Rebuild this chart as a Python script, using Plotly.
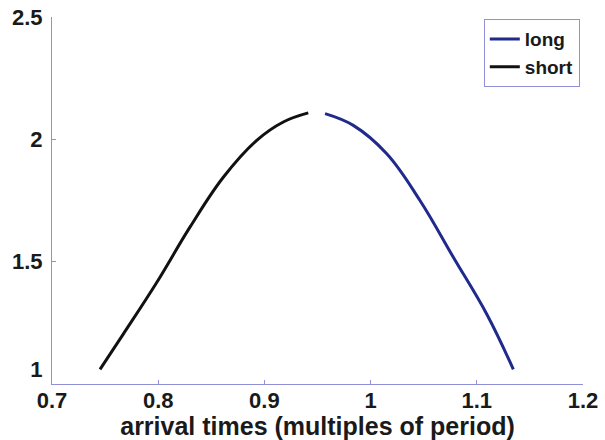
import plotly.graph_objects as go

# Data
x_short = [0.7452, 0.7671, 0.7986, 0.8299, 0.8613, 0.8928, 0.9178, 0.9413]
y_short = [1.060, 1.204, 1.415, 1.641, 1.845, 1.996, 2.071, 2.108]
x_long = [0.9571, 0.9837, 1.0152, 1.0465, 1.0779, 1.1093, 1.1344]
y_long = [2.105, 2.057, 1.941, 1.750, 1.518, 1.286, 1.060]

x_ticks = [0.7, 0.8, 0.9, 1.0, 1.1, 1.2]
x_tick_text = ["0.7", "0.8", "0.9", "1", "1.1", "1.2"]
y_ticks = [1.0, 1.5, 2.0, 2.5]
y_tick_text = ["1<br> ", "1.5", "2", "2.5"]

FONT = "Liberation Sans, Arial, Helvetica, sans-serif"
AXIS_COLOR = "#9090d8"

fig = go.Figure()
fig.add_trace(go.Scatter(x=x_long, y=y_long, mode="lines", name="long",
                         line=dict(color="#1f2a8c", width=3, shape="spline", smoothing=1.1)))
fig.add_trace(go.Scatter(x=x_short, y=y_short, mode="lines", name="short",
                         line=dict(color="#111111", width=3, shape="spline", smoothing=1.1)))

fig.update_layout(
    width=605, height=440,
    margin=dict(l=52, r=22, t=17, b=56),
    paper_bgcolor="white", plot_bgcolor="white",
    font=dict(family=FONT, color="#1a1a1a"),
    showlegend=True,
    legend=dict(x=0.994, y=0.994, xanchor="right", yanchor="top",
                bgcolor="white", bordercolor=AXIS_COLOR, borderwidth=1,
                font=dict(family=FONT, size=19, weight="bold", color="#1a1a1a"),
                tracegroupgap=0, itemwidth=30),
    xaxis=dict(range=[0.7, 1.2], tickvals=x_ticks, ticktext=x_tick_text,
               automargin=False,
               showgrid=False, zeroline=False, showline=True,
               linecolor=AXIS_COLOR, linewidth=1, mirror=False,
               ticks="inside", ticklen=4, tickcolor=AXIS_COLOR,
               ticklabelstandoff=-3,
               tickfont=dict(family=FONT, size=22, weight="bold", color="#1a1a1a"),
               title=dict(text="arrival times (multiples of period)",
                          font=dict(family=FONT, size=25, weight="bold", color="#1a1a1a"),
                          standoff=2)),
    yaxis=dict(range=[1.0, 2.5], tickvals=y_ticks, ticktext=y_tick_text,
               automargin=False,
               showgrid=False, zeroline=False, showline=True,
               linecolor=AXIS_COLOR, linewidth=1, mirror=False,
               ticks="inside", ticklen=4, tickcolor=AXIS_COLOR,
               ticklabelstandoff=4,
               tickfont=dict(family=FONT, size=22, weight="bold", color="#1a1a1a")),
)

fig.write_html("out.html")
